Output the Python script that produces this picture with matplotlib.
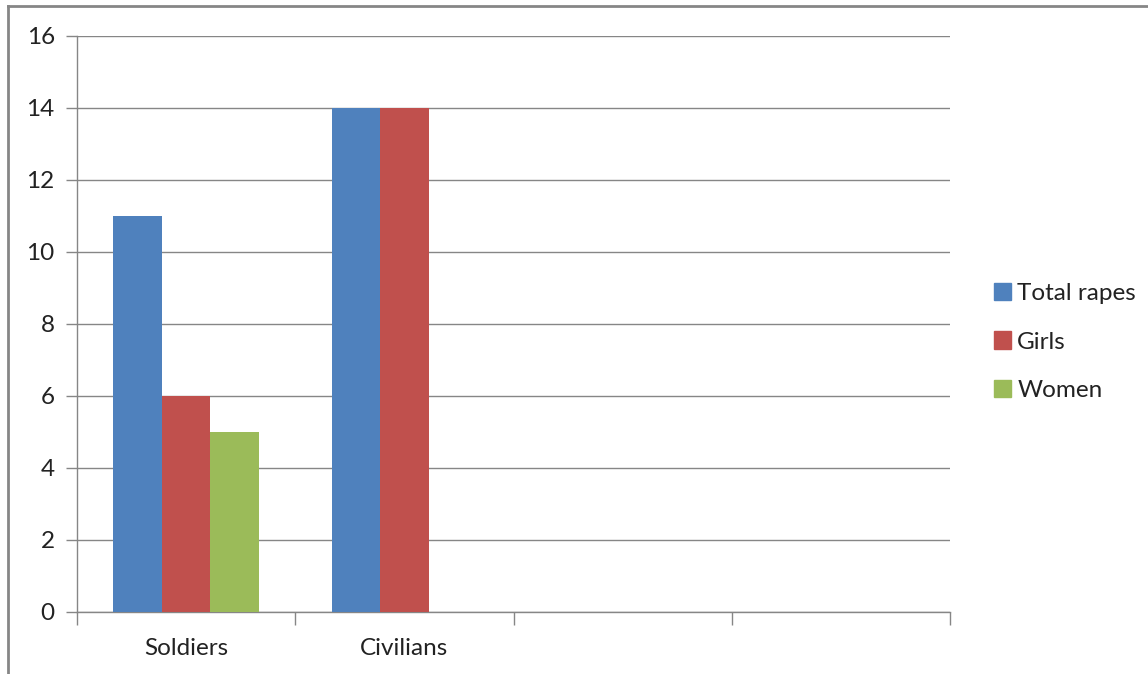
import numpy as np
import matplotlib.pyplot as plt
from matplotlib.lines import Line2D

categories = ["Soldiers", "Civilians", "", ""]
total_rapes = [11, 14, 0, 0]
girls = [6, 14, 0, 0]
women = [5, 0, 0, 0]
series_names = ["Total rapes", "Girls", "Women"]
colors = ["#4F81BD", "#C0504D", "#9BBB59"]
yticks = [0, 2, 4, 6, 8, 10, 12, 14, 16]

plt.rcParams['font.family'] = ['Lato', 'DejaVu Sans']
grey = "#868686"
fs = 17.5

fig = plt.figure(figsize=(11.48, 6.74), dpi=100)
ax = fig.add_axes([77 / 1148, 1 - 612 / 674, (950 - 77) / 1148, (612 - 36) / 674])

# Excel style: gap width 150% -> slot holds 3 bars plus 1.5 bar widths
w = 1 / 4.5
x = np.arange(len(categories))
for i, (vals, name, c) in enumerate(zip([total_rapes, girls, women], series_names, colors)):
    ax.bar(x + (i - 1) * w, vals, width=w, color=c, label=name, zorder=3)

ax.set_xlim(-0.5, len(categories) - 0.5)
ax.set_ylim(0, 16)
ax.set_yticks(yticks)
ax.tick_params(axis='y', length=8, width=1, color=grey, labelsize=fs, pad=8, labelcolor="#222222")
ax.yaxis.grid(True, color=grey, linewidth=1, zorder=0)

# category ticks sit on slot boundaries, labels in slot centres
ax.set_xticks(np.arange(len(categories) + 1) - 0.5)
ax.set_xticklabels([])
ax.set_xticks(x, minor=True)
ax.set_xticklabels(categories, minor=True, fontsize=fs, color="#222222")
ax.tick_params(axis='x', which='major', length=9, width=1, color=grey)
ax.tick_params(axis='x', which='minor', length=0, pad=19)

for s in ['top', 'right']:
    ax.spines[s].set_visible(False)
for s in ['left', 'bottom']:
    ax.spines[s].set_color(grey)
    ax.spines[s].set_linewidth(1)

handles = [plt.Rectangle((0, 0), 1, 1, color=c) for c in colors]
fig.legend(handles, series_names, loc='center left', bbox_to_anchor=(982 / 1148, 1 - 342 / 674),
           frameon=False, fontsize=fs, handlelength=0.7, handleheight=0.7, borderpad=0,
           handletextpad=0.25, labelspacing=1.12, labelcolor="#222222")

# chart area border
fig.add_artist(Line2D([8 / 1148, 8 / 1148], [0, 1 - 6 / 674], color=grey, linewidth=2))
fig.add_artist(Line2D([8 / 1148, 1], [1 - 6 / 674, 1 - 6 / 674], color=grey, linewidth=2))

fig.savefig("out.png", dpi=100)
